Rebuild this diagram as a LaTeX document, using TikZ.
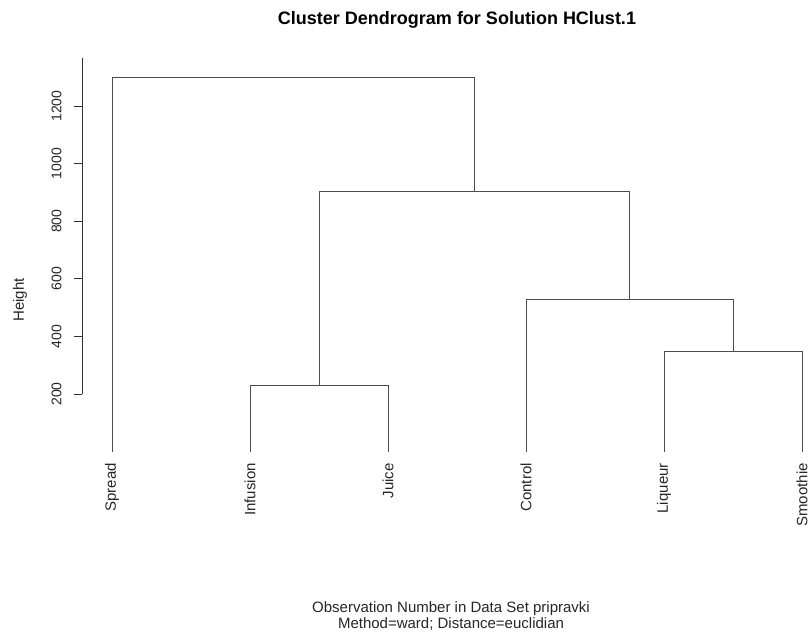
\documentclass[tikz,border=0pt]{standalone}
\usepackage{fontspec}
\setmainfont{Liberation Sans}
\usepackage{tikz}
\usetikzlibrary{positioning}
\tikzstyle{br}=[draw=black!70, line width=0.9pt]
\tikzstyle{ax}=[draw=black!80, line width=0.8pt]
\tikzstyle{lf}=[rotate=90, anchor=east, inner sep=0pt, font=\fontsize{15}{18}\selectfont, text=black!85]
\tikzstyle{tk}=[rotate=90, inner sep=0pt, font=\fontsize{14}{17}\selectfont, text=black!85]
\tikzstyle{ttl}=[inner sep=0pt, font=\fontsize{18}{22}\selectfont\bfseries]
\tikzstyle{lab}=[inner sep=0pt, align=center, font=\fontsize{15}{15.5}\selectfont, text=black!85]

\begin{document}
\begin{tikzpicture}[x=1pt, y=-1pt]
      \useasboundingbox (0,0) rectangle (809,635);
      \node [ttl] (title) at (457,20) {Cluster Dendrogram for Solution HClust.1};
      \node [lab] (xlab) at (451,616) {Observation Number in Data Set pripravki\\Method=ward; Distance=euclidian};
      \node [tk, font=\fontsize{15}{18}\selectfont] (ylab) at (20,300) {Height};
      \begin{scope}[shift={(0,451.6)}, y=0.288pt]
%      height axis
      \coordinate (axtop) at (82,1367);
      \coordinate (axbot) at (82,200);
      \path [ax] (axtop) -- (axbot);
      \foreach \h in {200,400,...,1200} {
        \coordinate (m\h) at (82,\h);
        \node [tk] (t\h) at (56.5,\h) {\h};
        \path [ax] (m\h) -- ++(-8pt,0);
      }
%      leaves
      \coordinate (Spread) at (112,0);
      \coordinate (Infusion) at (250,0);
      \coordinate (Juice) at (388,0);
      \coordinate (Control) at (526,0);
      \coordinate (Liqueur) at (664,0);
      \coordinate (Smoothie) at (802,0);
      \foreach \l in {Spread,Infusion,Juice,Control,Liqueur,Smoothie}
        \node [lf] (\l-lab) at ([yshift=-11.5pt]\l) {\l};
%      merges
      \coordinate (IJ) at (319,231);
      \coordinate (LS) at (733,349);
      \coordinate (CLS) at (629.5,530);
      \coordinate (IJCLS) at (474.25,905);
      \coordinate (root) at (293.1,1300);
      \path [br]
      (Infusion) |- (IJ) -| (Juice)
      (Liqueur) |- (LS) -| (Smoothie)
      (Control) |- (CLS) -| (LS)
      (IJ) |- (IJCLS) -| (CLS)
      (Spread) |- (root) -| (IJCLS);
      \end{scope}
\end{tikzpicture}
\end{document}
